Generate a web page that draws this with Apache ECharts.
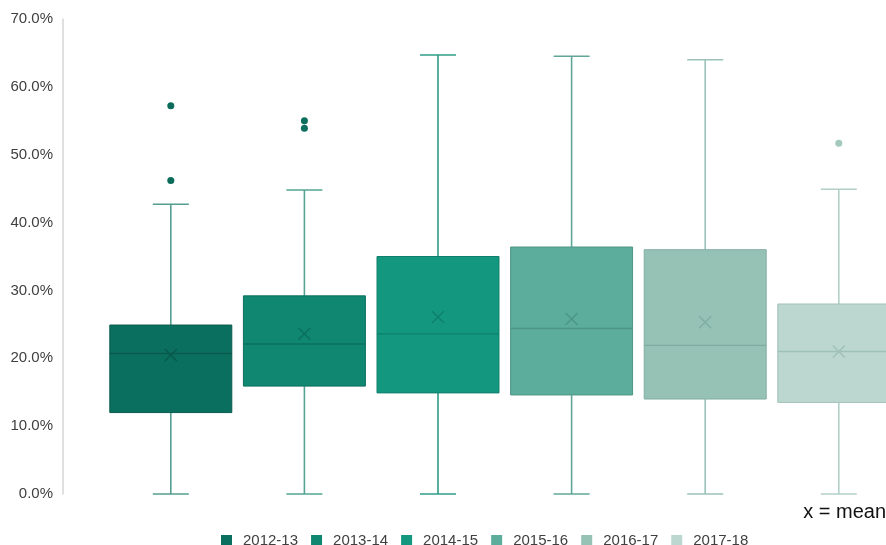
<!DOCTYPE html>
<html>
<head>
<meta charset="utf-8">
<script src="https://cdn.jsdelivr.net/npm/echarts@6/dist/echarts.min.js"></script>
<style>html,body{margin:0;padding:0;background:#fff;}#c{width:886px;height:545px;}</style>
</head>
<body>
<div id="c"></div>
<script>
const categories = ['2012-13', '2013-14', '2014-15', '2015-16', '2016-17', '2017-18'];
const mins    = [0, 0, 0, 0, 0, 0];
const q1s     = [12.0, 15.9, 14.9, 14.6, 14.0, 13.5];
const medians = [20.7, 22.1, 23.6, 24.4, 21.9, 21.0];
const q3s     = [24.9, 29.2, 35.0, 36.4, 36.0, 28.0];
const maxs    = [42.7, 44.8, 64.7, 64.5, 64.0, 44.9];
const means   = [20.5, 23.6, 26.1, 25.8, 25.3, 21.0];
const outlierYears  = ['2012-13', '2012-13', '2013-14', '2013-14', '2017-18'];
const outlierValues = [57.2, 46.2, 55.0, 53.9, 51.7];
const yTicks = [0, 10, 20, 30, 40, 50, 60, 70];

const fills    = ['#0b6f5f', '#0f8771', '#13987f', '#5cad9b', '#96c2b6', '#bcd7d0'];
const darks    = ['#095a4d', '#0b705e', '#0f7f6b', '#4c9686', '#80ada1', '#9fc1b8'];
const whiskers = ['#539e91', '#55a395', '#2f9c87', '#60a799', '#9ac2b8', '#b2d0c8'];
const outCols  = ['#0b6b5b', '#0d6f5e', '#0f7f6b', '#4c9686', '#80ada1', '#a3c9be'];

function renderBox(params, api) {
  const i = api.value(0);
  const k = params.seriesIndex;
  const bw = api.size([1, 0])[0] * 0.913;
  const cw = 36;
  const pMin = api.coord([i, api.value(1)]);
  const pQ1 = api.coord([i, api.value(2)]);
  const pMed = api.coord([i, api.value(3)]);
  const pQ3 = api.coord([i, api.value(4)]);
  const pMax = api.coord([i, api.value(5)]);
  const pMean = api.coord([i, api.value(6)]);
  const cx = pMin[0];
  const ws = {stroke: whiskers[k], lineWidth: 1.6};
  const ds = {stroke: darks[k], lineWidth: 1.4};
  const m = 6;
  return {
    type: 'group',
    children: [
      {type: 'line', shape: {x1: cx, y1: pQ1[1], x2: cx, y2: pMin[1]}, style: ws},
      {type: 'line', shape: {x1: cx - cw / 2, y1: pMin[1], x2: cx + cw / 2, y2: pMin[1]}, style: ws},
      {type: 'line', shape: {x1: cx, y1: pQ3[1], x2: cx, y2: pMax[1]}, style: ws},
      {type: 'line', shape: {x1: cx - cw / 2, y1: pMax[1], x2: cx + cw / 2, y2: pMax[1]}, style: ws},
      {type: 'rect', shape: {x: cx - bw / 2, y: pQ3[1], width: bw, height: pQ1[1] - pQ3[1]},
        style: {fill: fills[k], stroke: darks[k], lineWidth: 1}},
      {type: 'line', shape: {x1: cx - bw / 2, y1: pMed[1], x2: cx + bw / 2, y2: pMed[1]}, style: ds},
      {type: 'line', shape: {x1: cx - m, y1: pMean[1] - m, x2: cx + m, y2: pMean[1] + m}, style: ds},
      {type: 'line', shape: {x1: cx - m, y1: pMean[1] + m, x2: cx + m, y2: pMean[1] - m}, style: ds}
    ]
  };
}

const series = categories.map((name, i) => ({
  name: name,
  type: 'custom',
  renderItem: renderBox,
  itemStyle: {color: fills[i]},
  encode: {x: 0, y: [1, 2, 3, 4, 5, 6]},
  data: [[i, mins[i], q1s[i], medians[i], q3s[i], maxs[i], means[i]]],
  clip: false,
  z: 2
}));

series.push({
  name: 'outliers',
  type: 'scatter',
  symbol: 'circle',
  symbolSize: 7,
  data: outlierYears.map((y, j) => ({
    value: [y, outlierValues[j]],
    itemStyle: {color: outCols[categories.indexOf(y)], opacity: 1}
  })),
  itemStyle: {opacity: 1},
  z: 3
});

const chart = echarts.init(document.getElementById('c'));
chart.setOption({
  animation: false,
  backgroundColor: '#fff',
  grid: {left: 104, top: 19, width: 801.6, height: 475, containLabel: false, outerBoundsMode: 'none'},
  xAxis: {
    type: 'category',
    data: categories,
    axisLine: {show: false},
    axisTick: {show: false},
    axisLabel: {show: false},
    splitLine: {show: false}
  },
  yAxis: {
    type: 'value',
    min: yTicks[0],
    max: yTicks[yTicks.length - 1],
    interval: 10,
    offset: 41,
    axisLine: {show: true, lineStyle: {color: '#d9d9d9', width: 1.6}},
    axisTick: {show: false},
    splitLine: {show: false},
    axisLabel: {
      margin: 10,
      color: '#404040',
      fontSize: 15,
      fontFamily: 'Liberation Sans',
      formatter: v => v.toFixed(1) + '%'
    }
  },
  legend: {
    data: categories.map(c => ({name: c, icon: 'rect'})),
    left: 216,
    top: 528,
    itemWidth: 11,
    itemHeight: 11,
    itemGap: 13,
    textStyle: {fontSize: 15, color: '#404040', fontFamily: 'Liberation Sans', padding: [0, 0, 0, 6]}
  },
  graphic: [{
    type: 'text',
    right: 0,
    top: 502,
    style: {text: 'x = mean', font: '20px "Liberation Sans"', fill: '#111'}
  }],
  series: series
});
</script>
</body>
</html>
